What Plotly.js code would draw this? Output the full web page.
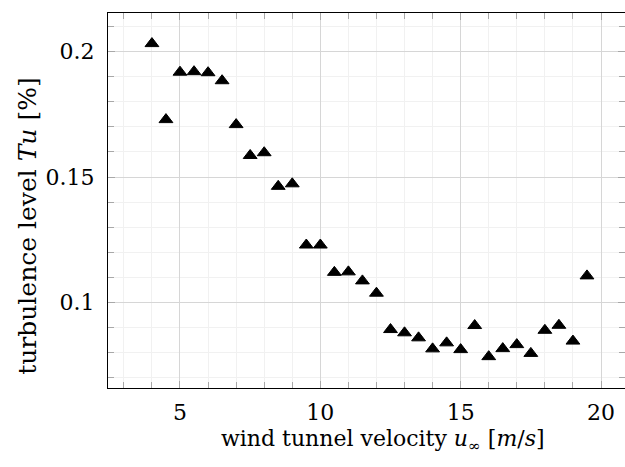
<!DOCTYPE html>
<html>
<head>
<meta charset="utf-8">
<script src="https://cdn.plot.ly/plotly-3.0.1.min.js"></script>
<style>
html,body{margin:0;padding:0;background:#fff;overflow:hidden;}
#chart{width:625px;height:467px;}
</style>
</head>
<body>
<div id="chart"></div>
<script>
// Data
const velocity = [4, 4.5, 5, 5.5, 6, 6.5, 7, 7.5, 8, 8.5, 9, 9.5, 10, 10.5, 11, 11.5,
                  12, 12.5, 13, 13.5, 14, 14.5, 15, 15.5, 16, 16.5, 17, 17.5, 18, 18.5, 19, 19.5];
const turbulence = [0.2032, 0.1729, 0.1918, 0.1920, 0.1916, 0.1884, 0.1709, 0.1586, 0.1597, 0.1463,
                    0.1473, 0.1229, 0.1229, 0.1120, 0.1122, 0.1086, 0.1037, 0.0892, 0.0879, 0.0859,
                    0.0815, 0.0839, 0.0812, 0.0908, 0.0784, 0.0816, 0.0832, 0.0797, 0.0889, 0.0909,
                    0.0846, 0.1106];
const xTickVals = [5, 10, 15, 20];
const yTickVals = [0.1, 0.15, 0.2];
const yTickText = ['0.1', '0.15', '0.2'];

const FONT = 'DejaVu Serif';

const trace = {
  x: velocity,
  y: turbulence,
  type: 'scatter',
  mode: 'markers',
  marker: {symbol: 'triangle-up', size: 12, color: '#000', line: {color: '#000', width: 1}},
  hoverinfo: 'x+y'
};

const layout = {
  width: 625,
  height: 467,
  margin: {l: 108, r: 0, t: 13, b: 79},
  paper_bgcolor: '#fff',
  plot_bgcolor: '#fff',
  showlegend: false,
  font: {family: FONT, size: 22, color: '#000'},
  xaxis: {
    range: [2.435, 20.855],
    tickvals: xTickVals,
    ticktext: xTickVals.map(String),
    showline: true, linecolor: '#000', linewidth: 1,
    mirror: 'allticks',
    ticks: 'inside', ticklen: 7, tickcolor: '#a8a8a8', tickwidth: 1,
    showgrid: true, gridcolor: '#d6d6d6', gridwidth: 1,
    zeroline: false,
    ticklabelstandoff: 5,
    tickfont: {family: FONT, size: 22, color: '#000'},
    minor: {dtick: 1, tick0: 0, ticks: 'inside', ticklen: 6, tickcolor: '#a8a8a8',
            showgrid: true, gridcolor: '#f1f1f1', gridwidth: 1}
  },
  yaxis: {
    range: [0.0659, 0.2154],
    tickvals: yTickVals,
    ticktext: yTickText,
    showline: true, linecolor: '#000', linewidth: 1,
    mirror: 'allticks',
    ticks: 'inside', ticklen: 7, tickcolor: '#a8a8a8', tickwidth: 1,
    showgrid: true, gridcolor: '#d6d6d6', gridwidth: 1,
    zeroline: false,
    ticklabelstandoff: 8,
    tickfont: {family: FONT, size: 22, color: '#000'},
    minor: {dtick: 0.01, tick0: 0, ticks: 'inside', ticklen: 6, tickcolor: '#a8a8a8',
            showgrid: true, gridcolor: '#f1f1f1', gridwidth: 1}
  },
  annotations: [
    {
      text: 'wind tunnel velocity <i>u</i><sub>∞</sub> [<i>m</i>/<i>s</i>]',
      xref: 'paper', yref: 'paper', x: 0.532, y: -0.139,
      xanchor: 'center', yanchor: 'middle', showarrow: false,
      font: {family: FONT, size: 22, color: '#000'}
    },
    {
      text: 'turbulence level <i>Tu</i> [%]',
      xref: 'paper', yref: 'paper', x: -0.157, y: 0.432,
      xanchor: 'center', yanchor: 'middle', textangle: -90, showarrow: false,
      font: {family: FONT, size: 25, color: '#000'}
    }
  ]
};

Plotly.newPlot('chart', [trace], layout, {displayModeBar: false, staticPlot: true});
</script>
</body>
</html>
